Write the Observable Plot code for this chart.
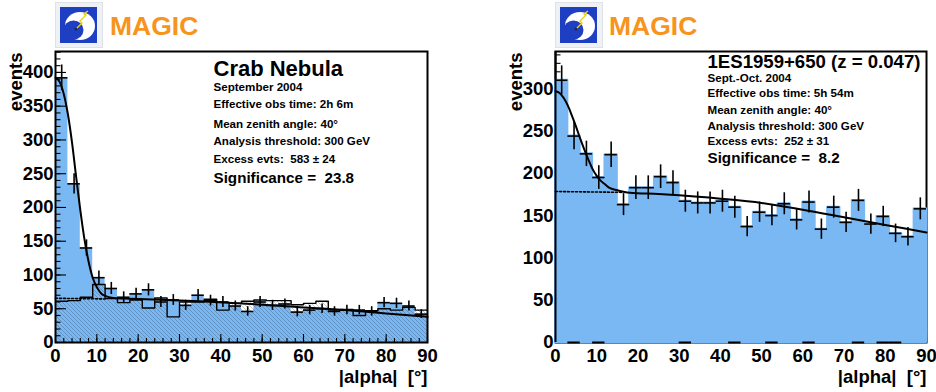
<!DOCTYPE html>
<html><head><meta charset="utf-8">
<script src="https://cdn.jsdelivr.net/npm/d3@7"></script>
<script src="https://cdn.jsdelivr.net/npm/@observablehq/plot@0.6"></script>
<style>
html,body{margin:0;padding:0;background:#fff;}
#root{position:relative;width:936px;height:392px;overflow:hidden;font-family:"Liberation Sans",Arial,Helvetica,sans-serif;}
#root > svg{position:absolute;top:0;}
</style></head><body>
<svg width="0" height="0" style="position:absolute"><defs>
<pattern id="hatch" patternUnits="userSpaceOnUse" width="4" height="4">
<path d="M-1,-1L5,5M-1,3L1,5M3,-1L5,1" stroke="#1e2a3a" stroke-width="0.6" stroke-opacity="0.45"/>
</pattern></defs></svg>
<div id="root"></div>
<script>
// ---------- data ----------
const binEdges = d3.range(0, 91, 3);            // 30 bins of 3 degrees
const xMajor = [0, 10, 20, 30, 40, 50, 60, 70, 80, 90];
const xMinor = d3.range(0, 91, 2);
const crabYTicks = [0, 50, 100, 150, 200, 250, 300, 350, 400];
const esYTicks = [0, 50, 100, 150, 200, 250, 300];

// Crab Nebula: ON events, OFF (background) events, ON errors
const crabOn  = [392,235,140,96,80,67,72,78,60,63,55,70,62,60,54,46,60,55,57,45,48,50,46,48,48,46,59,58,54,42];
const crabOff = [61,62,67,86,65,59,63,51,66,38,60,60,64,48,58,61,63,62,62,56,58,61,48,49,40,47,50,48,52,48];
const crabErr = [19,15,12,10,9,8,8.5,9,8,8,7.5,8.5,8,8,7.5,7,8,7.5,7.5,7,7,7,7,7,7,7,7.7,7.6,7.3,6.5];
const crabFitX = [0,1,2,3,4,5,6,7,8,9,10,11,12,14,17,25,35,50,60,70,80,90];
const crabFitY = [392,386,368,338,296,245,196,153,120,96,82,73,69,66,65,63.5,61,56,52,48,43,38];
const crabBgX = [0, 12];
const crabBgY = [65.5, 64.5];

// 1ES1959+650: ON events and errors
const esOn  = [310,244,223,195,222,163,183,183,196,189,167,165,165,167,160,137,154,150,164,145,166,134,160,142,168,140,149,129,125,158];
const esErr = [17,16,15,14,15,13,14,14,14,14,13,13,13,13,13,12,12,12,13,12,13,12,13,12,13,12,12,11,11,13];
const esFitX = [0,1,2,3,4,5,6,7,8,9,10,11,12,13,15,18,25,30,40,50,60,70,80,90];
const esFitY = [297,295,289,280,268,255,241,228,216,205,197,191,187,183,180,177,175.5,174,170,165,157,148,139,130];
const esBgX = [0, 16];
const esBgY = [178.5, 177.5];
const esAxisGapBins = [1, 3, 10, 14, 17, 20, 24, 26, 27];

const crabNotes = [
  {text: "Crab Nebula", dy: 24, size: 22},
  {text: "September 2004", dy: 39.7, size: 11.6},
  {text: "Effective obs time: 2h 6m", dy: 56.5, size: 11.6},
  {text: "Mean zenith angle: 40°", dy: 76.7, size: 11.6},
  {text: "Analysis threshold: 300 GeV", dy: 93.3, size: 11.6},
  {text: "Excess evts:  583 ± 24", dy: 111.7, size: 11.6},
  {text: "Significance =  23.8", dy: 131.7, size: 15.2}
];
const esNotes = [
  {text: "1ES1959+650 (z = 0.047)", dy: 16.7, size: 18.6},
  {text: "Sept.-Oct. 2004", dy: 30, size: 11.6},
  {text: "Effective obs time: 5h 54m", dy: 45.7, size: 11.6},
  {text: "Mean zenith angle: 40°", dy: 62.3, size: 11.6},
  {text: "Analysis threshold: 300 GeV", dy: 78.3, size: 11.6},
  {text: "Excess evts:  252 ± 31", dy: 93.3, size: 11.6},
  {text: "Significance =  8.2", dy: 111.3, size: 15.2}
];
const yLabel = "events";
const xLabel = "|alpha|  [°]";

// ---------- helpers ----------
const BLUE = "#7ab8f4";
const H = 392, MT = 51, MB = 50;
const FONT = "'Liberation Sans', Arial, Helvetica, sans-serif";
const stepPts = vals => vals.map((v, i) => ({x: binEdges[i], y: v})).concat([{x: binEdges[vals.length], y: vals[vals.length - 1]}]);
const crossPts = (vals, errs) => vals.map((v, i) => ({lo: binEdges[i], hi: binEdges[i + 1], mid: (binEdges[i] + binEdges[i + 1]) / 2, v, e: errs[i]}));
const pts = (xs, ys) => xs.map((x, i) => ({x, y: ys[i]}));

function tickMarks(fw, fh, yMax, yMajor) {
  const yMinor = d3.range(0, yMax, 10);
  const o = {stroke: "black", strokeWidth: 1.1};
  return [
    Plot.tickY(yMinor, {y: d => d, insetRight: fw - 5.5, ...o}),
    Plot.tickY(yMajor, {y: d => d, insetRight: fw - 11, ...o}),
    Plot.tickX(xMinor, {x: d => d, insetTop: fh - 4, ...o}),
    Plot.tickX(xMajor, {x: d => d, insetTop: fh - 8, ...o})
  ];
}
function dataMarks(on, err, fitX, fitY, bgX, bgY) {
  const c = crossPts(on, err);
  return [
    Plot.line(pts(fitX, fitY), {x: "x", y: "y", curve: "monotone-x", stroke: "black", strokeWidth: 2}),
    Plot.line(pts(bgX, bgY), {x: "x", y: "y", stroke: "black", strokeWidth: 1.6, strokeDasharray: "2,2"}),
    Plot.ruleY(c, {y: "v", x1: "lo", x2: "hi", stroke: "black", strokeWidth: 1.6}),
    Plot.ruleX(c, {x: "mid", y1: d => d.v - d.e, y2: d => d.v + d.e, stroke: "black", strokeWidth: 1.6})
  ];
}
function textMarks(yTicks, notes, notesDx) {
  return [
    Plot.axisY({ticks: yTicks, tickSize: 0, tickPadding: 2, label: null, fontSize: 18.5}),
    Plot.axisX({ticks: xMajor, tickSize: 0, tickPadding: 6, label: null, fontSize: 18.5}),
    Plot.text([yLabel], {text: d => d, frameAnchor: "top-left", rotate: -90, textAnchor: "end", lineAnchor: "bottom", dx: -33.3, dy: 1, fontSize: 18.5, fill: "black"}),
    Plot.text([xLabel], {text: d => d, frameAnchor: "bottom-right", textAnchor: "end", lineAnchor: "bottom", dx: 0, dy: 40, fontSize: 18.5, fill: "black"}),
    ...notes.map(n => Plot.text([n.text], {text: d => d, frameAnchor: "top-left", textAnchor: "start", lineAnchor: "bottom", dx: notesDx, dy: n.dy, fontSize: n.size, fill: "black"}))
  ];
}
const style = {fontFamily: FONT, fontWeight: "bold", fontSize: "18.5px", color: "black", background: "white", overflow: "visible"};

// ---------- left panel ----------
{
  const width = 470, ml = 55, mr = 43, yMax = 431;
  const fw = width - ml - mr, fh = H - MT - MB;
  const p = Plot.plot({
    width, height: H, marginLeft: ml, marginRight: mr, marginTop: MT, marginBottom: MB,
    x: {domain: [0, 90]}, y: {domain: [0, yMax]}, style,
    marks: [
      Plot.areaY(stepPts(crabOn), {x: "x", y: "y", curve: "step-after", fill: BLUE}),
      Plot.areaY(stepPts(crabOff), {x: "x", y: "y", curve: "step-after", fill: "url(#hatch)"}),
      Plot.line(stepPts(crabOff), {x: "x", y: "y", curve: "step-after", stroke: "black", strokeWidth: 1.4}),
      Plot.frame({stroke: "black", strokeWidth: 2}),
      ...tickMarks(fw, fh, yMax, crabYTicks),
      ...dataMarks(crabOn, crabErr, crabFitX, crabFitY, crabBgX, crabBgY),
      ...textMarks(crabYTicks, crabNotes, 158)
    ]
  });
  p.style.left = "0px";
  document.getElementById("root").appendChild(p);
}
// ---------- right panel ----------
{
  const width = 466, ml = 85, mr = 10, yMax = 344;
  const fw = width - ml - mr, fh = H - MT - MB;
  const p = Plot.plot({
    width, height: H, marginLeft: ml, marginRight: mr, marginTop: MT, marginBottom: MB,
    x: {domain: [0, 90]}, y: {domain: [0, yMax]}, style,
    marks: [
      Plot.frame({stroke: "black", strokeWidth: 2}),
      ...tickMarks(fw, fh, yMax, esYTicks),
      Plot.areaY(stepPts(esOn), {x: "x", y: "y", curve: "step-after", fill: BLUE, stroke: BLUE, strokeWidth: 2}),
      Plot.ruleX([0], {x: d => d, stroke: "black", strokeWidth: 2}),
      Plot.ruleY(esAxisGapBins, {y: () => 0, x1: i => binEdges[i], x2: i => binEdges[i + 1], stroke: "black", strokeWidth: 2}),
      ...dataMarks(esOn, esErr, esFitX, esFitY, esBgX, esBgY),
      ...textMarks(esYTicks, esNotes, 152)
    ]
  });
  p.style.left = "470px";
  document.getElementById("root").appendChild(p);
}
// ---------- MAGIC logos ----------
{
  const ns = "http://www.w3.org/2000/svg";
  const svg = document.createElementNS(ns, "svg");
  svg.setAttribute("width", 936); svg.setAttribute("height", 50);
  svg.style.left = "0px"; svg.style.background = "transparent";
  const logo = (x) => `<g transform="translate(${x},2)">
    <rect x="0.5" y="0.5" width="47" height="45" fill="#eef1f5" stroke="#dfe3e8"/>
    <rect x="5" y="5" width="37" height="36" fill="#1f3fc2"/>
    <ellipse cx="25" cy="24" rx="15" ry="14" fill="#ffffff"/>
    <ellipse cx="18.5" cy="28" rx="10" ry="9.5" fill="#1f3fc2"/>
    <polyline points="21,27 27,21 25,19 31,13 29,12 33,9" fill="none" stroke="#e9d21c" stroke-width="1.4"/>
    <circle cx="21" cy="27" r="1.5" fill="#2b2b2b"/>
  </g>`;
  const magic = (x) => `<text x="${x}" y="35" font-family="${FONT.replace(/'/g, "")}" font-weight="bold" font-size="26.5" fill="#f7941d">MAGIC</text>`;
  svg.innerHTML = logo(55) + magic(110) + logo(555) + magic(609);
  document.getElementById("root").appendChild(svg);
}
</script>
</body></html>
